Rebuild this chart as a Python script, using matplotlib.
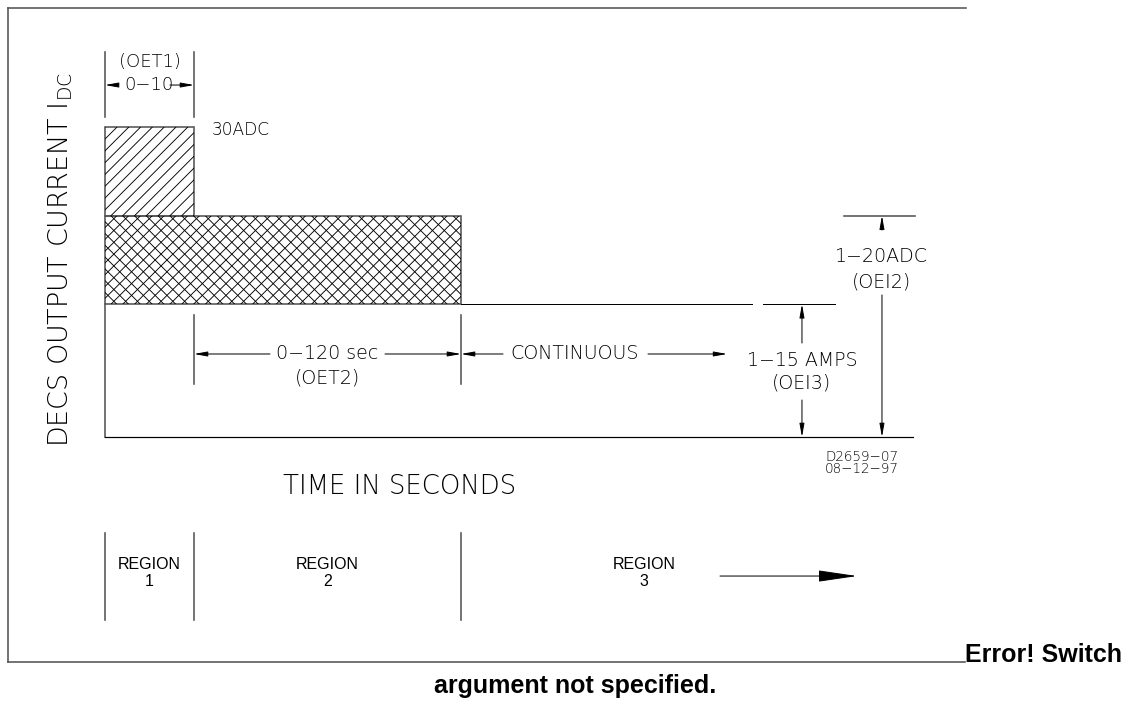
import matplotlib
matplotlib.use("Agg")
import numpy as np
import matplotlib.pyplot as plt
from matplotlib.patches import Rectangle

# schematic values (drawing is not to scale)
region_bounds = [0, 1, 4]          # time axis: end of OET1, end of OET2
region_labels = ["1", "2", "3"]
t_end = 9.08                       # right end of the time axis
oet1_level = 3.5                   # 30ADC
oei2_level = 2.5                   # 1-20ADC
oei3_level = 1.5                   # 1-15 AMPS

W, H = 1138, 704
fig = plt.figure(figsize=(W / 72, H / 72), dpi=72)
ax = fig.add_axes([0, 0, 1, 1])
# pixel of t=0 / I=0 and pixels per schematic unit
X0, XU, Y0, YU = 105, 89.0, 437, 88.5
ax.set_xlim(-X0 / XU, (W - X0) / XU)
ax.set_ylim((Y0 - H) / YU, Y0 / YU)
ax.axis("off")

gray = "#555555"
font = "DejaVu Sans"
light = dict(family=font, weight=200)


def arrow(x0, y0, x1, y1, big=False):
    style = "-|>,head_length=3.4,head_width=0.5" if big else "-|>,head_length=1.1,head_width=0.2"
    ax.annotate("", xy=(x1, y1), xytext=(x0, y0),
                arrowprops=dict(arrowstyle=style, color="black", lw=1.0,
                                shrinkA=0, shrinkB=0, mutation_scale=10))


def hatch_box(x, y, w, h, cross=False, step_px=11.8):
    box = Rectangle((x, y), w, h, facecolor="none", edgecolor=gray, lw=1.6)
    ax.add_patch(box)
    run = h * YU / XU            # 45 degree lines on screen
    step = step_px / XU
    for x0 in np.arange(x - run, x + w + step, step):
        ln, = ax.plot([x0, x0 + run], [y, y + h], color="black", lw=0.9)
        ln.set_clip_path(box)
        if cross:
            ln, = ax.plot([x0, x0 + run], [y + h, y], color="black", lw=0.9)
            ln.set_clip_path(box)


t1, t2, t3 = region_bounds

# hatched blocks
hatch_box(t1, oei2_level, t2 - t1, oet1_level - oei2_level)
hatch_box(t1, oei3_level, t3 - t1, oei2_level - oei3_level, cross=True)
ax.plot([t1, t1], [0, oei3_level], color=gray, lw=1.6)
ax.plot([t1, t_end], [0, 0], color="black", lw=1.2)

# continuous level line (broken) and OEI2 tick
ax.plot([t3, 7.27], [oei3_level, oei3_level], color="black", lw=1.0)
ax.plot([7.39, 8.20], [oei3_level, oei3_level], color="black", lw=1.0)
ax.plot([8.30, 9.10], [oei2_level, oei2_level], color=gray, lw=1.6)

# OET1 dimension
for t in (t1, t2):
    ax.plot([t, t], [3.616, 4.350], color=gray, lw=1.6)
ax.text((t1 + t2) / 2, 4.237, "(OET1)", fontsize=18, ha="center", va="center", **light)
ax.text((t1 + t2) / 2, 3.977, "0\u221210", fontsize=18, ha="center", va="center", **light)
arrow(0.146, 3.977, t1, 3.977)
arrow(0.730, 3.977, t2, 3.977)
ax.text(1.20, 3.469, "30ADC", fontsize=17, ha="left", va="center", **light)

# OET2 dimension
for t in (t2, t3):
    ax.plot([t, t], [0.599, 1.379], color=gray, lw=1.6)
ax.text((t2 + t3) / 2, 0.938, "0\u2212120 sec", fontsize=19, ha="center", va="center", **light)
ax.text((t2 + t3) / 2, 0.667, "(OET2)", fontsize=19, ha="center", va="center", **light)
arrow(1.854, 0.938, t2, 0.938)
arrow(3.146, 0.938, t3, 0.938)

# continuous
arrow(4.472, 0.938, t3, 0.938)
ax.text(5.281, 0.938, "CONTINUOUS", fontsize=19, ha="center", va="center", **light)
arrow(6.101, 0.938, 6.99, 0.938)

# OEI3 dimension
arrow(7.831, 1.062, 7.831, oei3_level)
arrow(7.831, 0.418, 7.831, 0)
ax.text(7.831, 0.870, "1\u221215 AMPS", fontsize=19, ha="center", va="center", **light)
ax.text(7.831, 0.610, "(OEI3)", fontsize=19, ha="center", va="center", **light)

# OEI2 dimension
arrow(8.73, 2.339, 8.73, oei2_level)
arrow(8.73, 1.605, 8.73, 0)
ax.text(8.72, 2.034, "1\u221220ADC", fontsize=19, ha="center", va="center", **light)
ax.text(8.72, 1.751, "(OEI2)", fontsize=19, ha="center", va="center", **light)

ax.text(8.506, -0.294, "D2659\u221207\n08\u221212\u221297", fontsize=13.5, linespacing=0.8,
        ha="center", va="center", **light)

# axis titles
ax.text(-0.494, 2.0, "DECS OUTPUT CURRENT I$_{\\mathregular{DC}}$", fontsize=27,
        rotation=90, ha="center", va="center", **light)
ax.text(3.315, -0.554, "TIME IN SECONDS", fontsize=26, ha="center", va="center", **light)

# regions
for t in region_bounds:
    ax.plot([t, t], [-1.085, -2.068], color=gray, lw=1.6)
region_centers = [(t1 + t2) / 2, (t2 + t3) / 2, 6.056]
for xc, lab in zip(region_centers, region_labels):
    ax.text(xc, -1.446, "REGION", fontsize=16, family="Liberation Sans", ha="center", va="center")
    ax.text(xc, -1.635, lab, fontsize=16, family="Liberation Sans", ha="center", va="center")
arrow(6.91, -1.571, 8.449, -1.571, big=True)

# frame
ax.plot([-1.090, -1.090], [4.847, -2.542], color=gray, lw=1.6)
ax.plot([-1.090, 9.674], [4.847, 4.847], color=gray, lw=1.6)
ax.plot([-1.090, 9.663], [-2.542, -2.542], color=gray, lw=1.6)
ax.text(9.663, -2.542, "Error! Switch", fontsize=25, family="Liberation Sans",
        weight="bold", ha="left", va="baseline")
ax.text(5.281, -2.814, "argument not specified.", fontsize=25, family="Liberation Sans",
        weight="bold", ha="center", va="center")

fig.savefig("out.png", dpi=72)
